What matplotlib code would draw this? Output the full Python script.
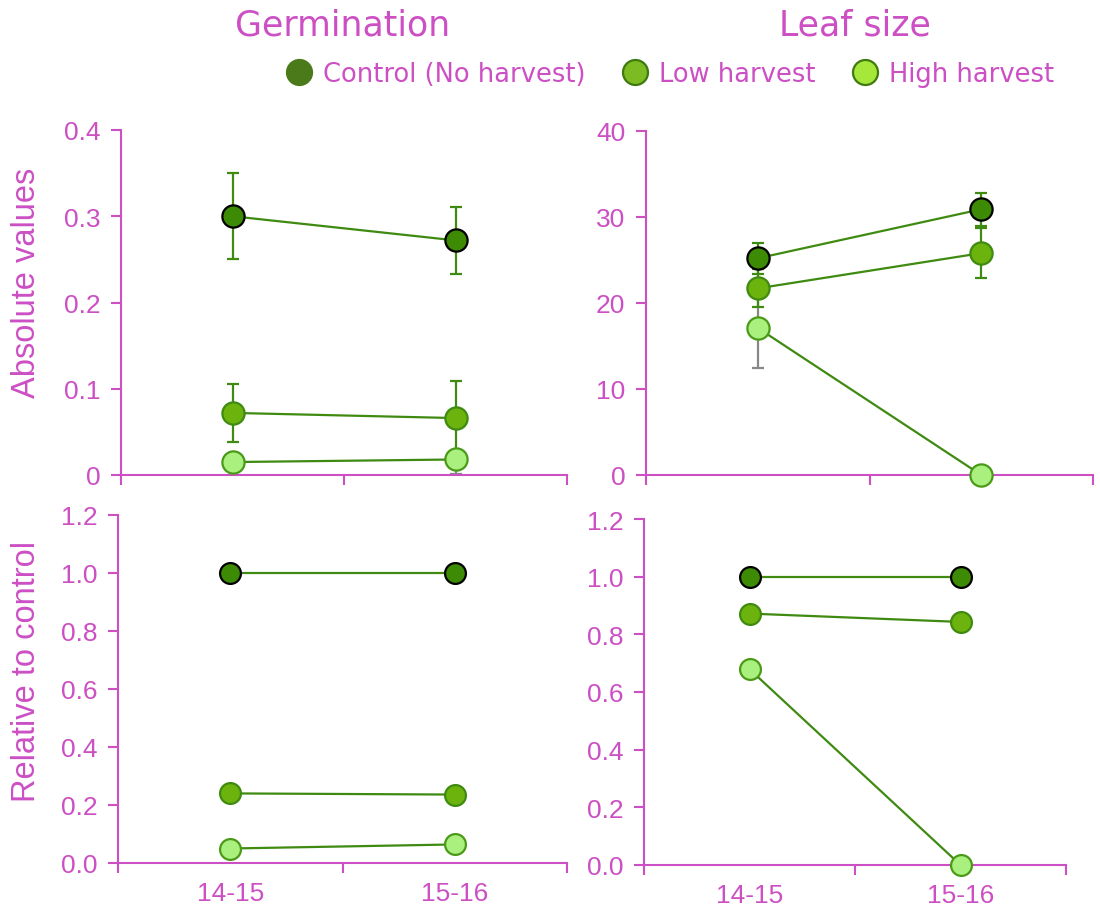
import numpy as np
import matplotlib.pyplot as plt
from matplotlib.lines import Line2D

# data
seasons = ['14-15', '15-16']
groups = ['Control (No harvest)', 'Low harvest', 'High harvest']

germ_abs = [[0.300, 0.272], [0.072, 0.066], [0.015, 0.018]]
germ_err_lo = [[0.050, 0.039], [0.034, 0.043], [0.004, 0.017]]
germ_err_hi = [[0.050, 0.039], [0.034, 0.043], [0.004, 0.008]]
leaf_abs = [[25.2, 30.9], [21.7, 25.8], [17.1, 0.0]]
leaf_err = [[1.8, 1.9], [2.2, 2.9], [4.7, 0.0]]
germ_rel = [[1.0, 1.0], [0.240, 0.236], [0.050, 0.064]]
leaf_rel = [[1.0, 1.0], [0.872, 0.843], [0.679, 0.0]]

MAG = '#cc4fc4'
LINE = '#3f8a10'
fills = ['#3d8a05', '#6cb30e', '#a9f07e']
edges = ['black', '#3f8a10', '#4a9a18']
err_cols = [LINE, LINE, '#888888']
leg_fills = ['#4a7a1a', '#7dbb22', '#a5e83a']
leg_edges = ['#4a7a1a', '#3f7a10', '#3f7a10']

W, H = 1100, 912
fig = plt.figure(figsize=(W / 100, H / 100), dpi=100)


def box(l, r, t, b):
    return [l / W, 1 - b / H, (r - l) / W, (b - t) / H]


def panel(rect, vals, ylim, yticks, ylabels, errs=None, xlabels=False, ms=16):
    ax = fig.add_axes(rect)
    x = np.array([0.5, 1.5])
    if errs is not None:
        lo, hi = errs
        for i in [2, 1, 0]:
            ax.errorbar(x, vals[i], yerr=[lo[i], hi[i]], fmt='none', ecolor=err_cols[i],
                        elinewidth=1.6, capsize=4, capthick=1.6, zorder=1)
    for i in range(3):
        ax.plot(x, vals[i], color=LINE, lw=1.6, zorder=2)
    for i in range(3):
        ax.plot(x, vals[i], 'o', ms=ms, mfc=fills[i], mec=edges[i], mew=1.6,
                zorder=3 + i, clip_on=False)
    ax.set_xlim(0, 2)
    ax.set_ylim(*ylim)
    ax.set_yticks(yticks)
    ax.set_yticklabels(ylabels)
    ax.set_xticks([0, 1, 2])
    ax.set_xticklabels([])
    if xlabels:
        ax.set_xticks(x, minor=True)
        ax.set_xticklabels(seasons, minor=True)
    ax.tick_params(axis='x', which='minor', length=0, pad=13, labelsize=19,
                   labelcolor=MAG)
    ax.tick_params(which='major', direction='out', length=7, width=1.5,
                   color=MAG, labelcolor=MAG, labelsize=19, pad=8)
    for lab in ax.get_yticklabels() + ax.get_xticklabels(minor=True):
        lab.set_family('Liberation Sans')
    for s in ['top', 'right']:
        ax.spines[s].set_visible(False)
    for s in ['left', 'bottom']:
        ax.spines[s].set_color(MAG)
        ax.spines[s].set_linewidth(1.5)
    return ax


ax1 = panel(box(121, 567, 131, 476), germ_abs, (0, 0.4),
            [0, 0.1, 0.2, 0.3, 0.4], ['0', '0.1', '0.2', '0.3', '0.4'],
            (germ_err_lo, germ_err_hi))
ax2 = panel(box(646, 1093, 132, 476), leaf_abs, (0, 40),
            [0, 10, 20, 30, 40], ['0', '10', '20', '30', '40'], (leaf_err, leaf_err))
rel_ticks = [0, 0.2, 0.4, 0.6, 0.8, 1.0, 1.2]
rel_labs = ['%.1f' % t for t in rel_ticks]
ax3 = panel(box(118, 567, 516, 864), germ_rel, (0, 1.2), rel_ticks, rel_labs,
            xlabels=True, ms=15)
ax4 = panel(box(644, 1066, 520, 866), leaf_rel, (0, 1.2), rel_ticks, rel_labs,
            xlabels=True, ms=15)

ax1.set_ylabel('Absolute values', fontsize=23.5, color=MAG, family='Liberation Sans')
ax3.set_ylabel('Relative to control', fontsize=23.5, color=MAG, family='Liberation Sans')
ax1.yaxis.set_label_coords((42 - 121) / 446, 0.56)
ax3.yaxis.set_label_coords((42 - 118) / 449, 0.552)

fig.text(343 / W, 1 - 25 / H, 'Germination', fontsize=25, color=MAG,
         ha='center', va='center')
fig.text(855 / W, 1 - 25 / H, 'Leaf size', fontsize=25, color=MAG,
         ha='center', va='center')

handles = [Line2D([], [], ls='none', marker='o', ms=18, mfc=leg_fills[i],
                  mec=leg_edges[i], mew=1.6) for i in range(3)]
leg = fig.legend(handles, groups, loc='center', bbox_to_anchor=(669 / W, 1 - 75 / H),
                 ncol=3, frameon=False, fontsize=18.5, handletextpad=0.33,
                 columnspacing=1.34, handlelength=1.2, borderpad=0, borderaxespad=0)
for t in leg.get_texts():
    t.set_color(MAG)

fig.savefig('out.png', dpi=100)
